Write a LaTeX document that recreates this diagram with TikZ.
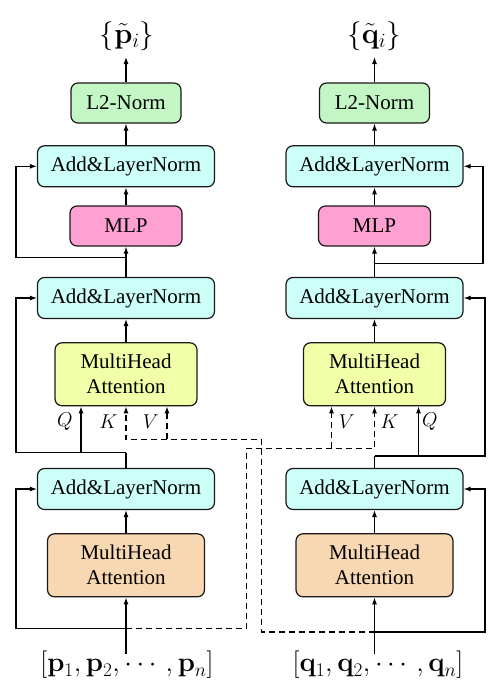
\RequirePackage{fix-cm}
\documentclass[tikz,border=0pt]{standalone}
\usepackage{amsmath}
\usepackage[no-math]{fontspec}
\setmainfont{Liberation Serif}
\usetikzlibrary{arrows.meta}
\definecolor{cgreen}{HTML}{C4F5C4}
\definecolor{ccyan}{HTML}{CCFFF8}
\definecolor{cpink}{HTML}{FFA0D2}
\definecolor{cyel}{HTML}{F0FFA8}
\definecolor{corange}{HTML}{F8D8B2}
\tikzset{
  box/.style={draw=black!90, line width=1.2pt, rounded corners=7pt, align=center,
              font=\rmfamily\fontsize{21}{25}\selectfont, inner sep=0pt},
  anbox/.style={box, fill=ccyan, minimum width=177pt, minimum height=41pt},
  lab/.style={font=\fontsize{29}{33}\selectfont, inner sep=2pt},
  inlab/.style={font=\fontsize{27.5}{31}\selectfont, inner sep=2pt},
  qkv/.style={font=\fontsize{20}{24}\selectfont, inner sep=0pt},
  arr/.style={-{Latex[length=7pt,width=5pt]}, line width=1.1pt},
  dsh/.style={arr, dash pattern=on 6pt off 4pt},
  ln/.style={line width=1.1pt}
}
\begin{document}
\begin{tikzpicture}[x=1pt,y=-1pt]
\useasboundingbox (0,0) rectangle (499,686);
% ---------- left column ----------
\node[box,fill=cgreen,minimum width=110pt,minimum height=40pt] (l2L) at (126,103) {L2-Norm};
\node[anbox] (anTL) at (126,166.3) {Add\&LayerNorm};
\node[box,fill=cpink,minimum width=112pt,minimum height=40pt] (mlpL) at (126,226) {MLP};
\node[anbox] (anML) at (126,298) {Add\&LayerNorm};
\node[box,fill=cyel,minimum width=142pt,minimum height=63pt] (mhaL) at (126,374.3) {MultiHead\\Attention};
\node[anbox] (anBL) at (126,489) {Add\&LayerNorm};
\node[box,fill=corange,minimum width=157pt,minimum height=63pt] (mhoL) at (126,565.3) {MultiHead\\Attention};
\node[lab] (outL) at (127,36) {$\{\tilde{\mathbf{p}}_i\}$};
\node[inlab] (inL) at (127,665) {$[\mathbf{p}_1,\mathbf{p}_2,\cdots,\mathbf{p}_n]$};
% ---------- right column ----------
\node[box,fill=cgreen,minimum width=110pt,minimum height=40pt] (l2R) at (374.5,103) {L2-Norm};
\node[anbox] (anTR) at (374.5,166.3) {Add\&LayerNorm};
\node[box,fill=cpink,minimum width=112pt,minimum height=40pt] (mlpR) at (374.5,226) {MLP};
\node[anbox] (anMR) at (374.5,298) {Add\&LayerNorm};
\node[box,fill=cyel,minimum width=142pt,minimum height=63pt] (mhaR) at (374.5,374.3) {MultiHead\\Attention};
\node[anbox] (anBR) at (374.5,489) {Add\&LayerNorm};
\node[box,fill=corange,minimum width=157pt,minimum height=63pt] (mhoR) at (374.5,565.3) {MultiHead\\Attention};
\node[lab] (outR) at (374,36) {$\{\tilde{\mathbf{q}}_i\}$};
\node[inlab] (inR) at (378,665) {$[\mathbf{q}_1,\mathbf{q}_2,\cdots,\mathbf{q}_n]$};
% ---------- Q K V labels ----------
\node[qkv] (labQL) at (65,421.7) {$Q$};
\node[qkv] (labKL) at (108.3,421.7) {$K$};
\node[qkv] (labVL) at (150.7,421.7) {$V$};
\node[qkv] (labVR) at (346.7,421.7) {$V$};
\node[qkv] (labKR) at (389.3,421.7) {$K$};
\node[qkv] (labQR) at (430,421.7) {$Q$};
% ---------- junctions ----------
\coordinate (jL0) at (126,628.5);
\coordinate (jL2) at (126,452.5);
\coordinate (jL1) at (126,257.3);
\coordinate (jR0) at (374.5,632);
\coordinate (jR2) at (374.5,456);
\coordinate (jR1) at (374.5,263.3);
\coordinate (vL) at (167,439.3);
\coordinate (vR) at (331.5,448.3);
\coordinate (tL) at (126,57);
\coordinate (tR) at (374.5,57);
% ---------- left connectors ----------
\draw[arr] ([yshift=-5pt]inL.north -| mhoL.south) -- (mhoL.south);
\draw[arr] (mhoL.north) -- (anBL.south);
\draw[arr] (jL0) -- (16,628.5) |- (anBL.west);
\draw[ln] (anBL.north) -- (jL2);
\draw[arr] (jL2) -| ([xshift=-45pt]mhaL.south);
\draw[arr] (jL2) -- (16,452.5) |- (anML.west);
\draw[arr] (mhaL.north) -- (anML.south);
\draw[ln] (anML.north) -- (jL1);
\draw[arr] (jL1) -- (mlpL.south);
\draw[arr] (jL1) -- (16,257.3) |- (anTL.west);
\draw[arr] (mlpL.north) -- (anTL.south);
\draw[arr] (anTL.north) -- (l2L.south);
\draw[arr] (l2L.north) -- (tL);
% ---------- right connectors ----------
\draw[arr] ([yshift=-5pt]inR.north -| mhoR.south) -- (mhoR.south);
\draw[arr] (mhoR.north) -- (anBR.south);
\draw[arr] (jR0) -- (485,632) |- (anBR.east);
\draw[ln] (anBR.north) -- (jR2);
\draw[arr] (jR2) -| ([xshift=44pt]mhaR.south);
\draw[arr] (jR2) -- (485,456) |- (anMR.east);
\draw[arr] (mhaR.north) -- (anMR.south);
\draw[ln] (anMR.north) -- (jR1);
\draw[arr] (jR1) -- (mlpR.south);
\draw[arr] (jR1) -- (483,263.3) |- (anTR.east);
\draw[arr] (mlpR.north) -- (anTR.south);
\draw[arr] (anTR.north) -- (l2R.south);
\draw[arr] (l2R.north) -- (tR);
% ---------- cross (dashed) connectors ----------
\draw[dsh] (jL0) -- (246.7,628.5) -- (246.7,448.3) -| (mhaR.south);
\draw[dsh] (vR) -- (vR |- mhaR.south);
\draw[dsh] (jR0) -- (261.7,632) -- (261.7,439.3) -| (mhaL.south);
\draw[dsh] (vL) -- (vL |- mhaL.south);
\end{tikzpicture}
\end{document}
